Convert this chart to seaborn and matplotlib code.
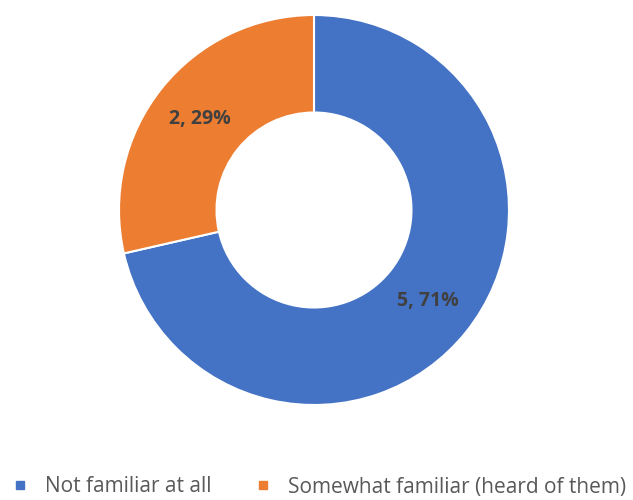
import numpy as np
import seaborn as sns
import matplotlib.pyplot as plt
from matplotlib.lines import Line2D

sns.set_theme(style="white")
plt.rcParams['font.family'] = ['Open Sans', 'DejaVu Sans']

categories = ["Not familiar at all", "Somewhat familiar (heard of them)"]
counts = [5, 2]
colors = ["#4472C4", "#ED7D31"]

total = sum(counts)

def make_label(pct):
    n = int(round(pct * total / 100.0))
    return "%d, %d%%" % (n, round(pct))

fig = plt.figure(figsize=(6.33, 5.0), dpi=100)
ax = fig.add_axes([119 / 633, 95 / 500, 390 / 633, 390 / 500])
wedges, texts, autotexts = ax.pie(
    counts, colors=colors, startangle=90, counterclock=False,
    radius=1.0, autopct=make_label, pctdistance=0.75,
    wedgeprops=dict(width=0.5, edgecolor="white", linewidth=1.5),
    textprops=dict(color="#404040", fontsize=14, fontweight="bold"),
)
ax.set_xlim(-1, 1)
ax.set_ylim(-1, 1)
ax.set_aspect("equal")
ax.axis("off")

handles = [Line2D([0], [0], marker="s", linestyle="", markersize=6,
                  markerfacecolor=c, markeredgecolor=c) for c in colors]
fig.legend(handles, categories, loc="center", bbox_to_anchor=(0.504, 0.026),
           ncol=2, frameon=False, fontsize=15, handlelength=0.8,
           handletextpad=0.8, columnspacing=2.1, labelcolor="#595959",
           borderpad=0, borderaxespad=0)

fig.savefig("out.png", dpi=100)
